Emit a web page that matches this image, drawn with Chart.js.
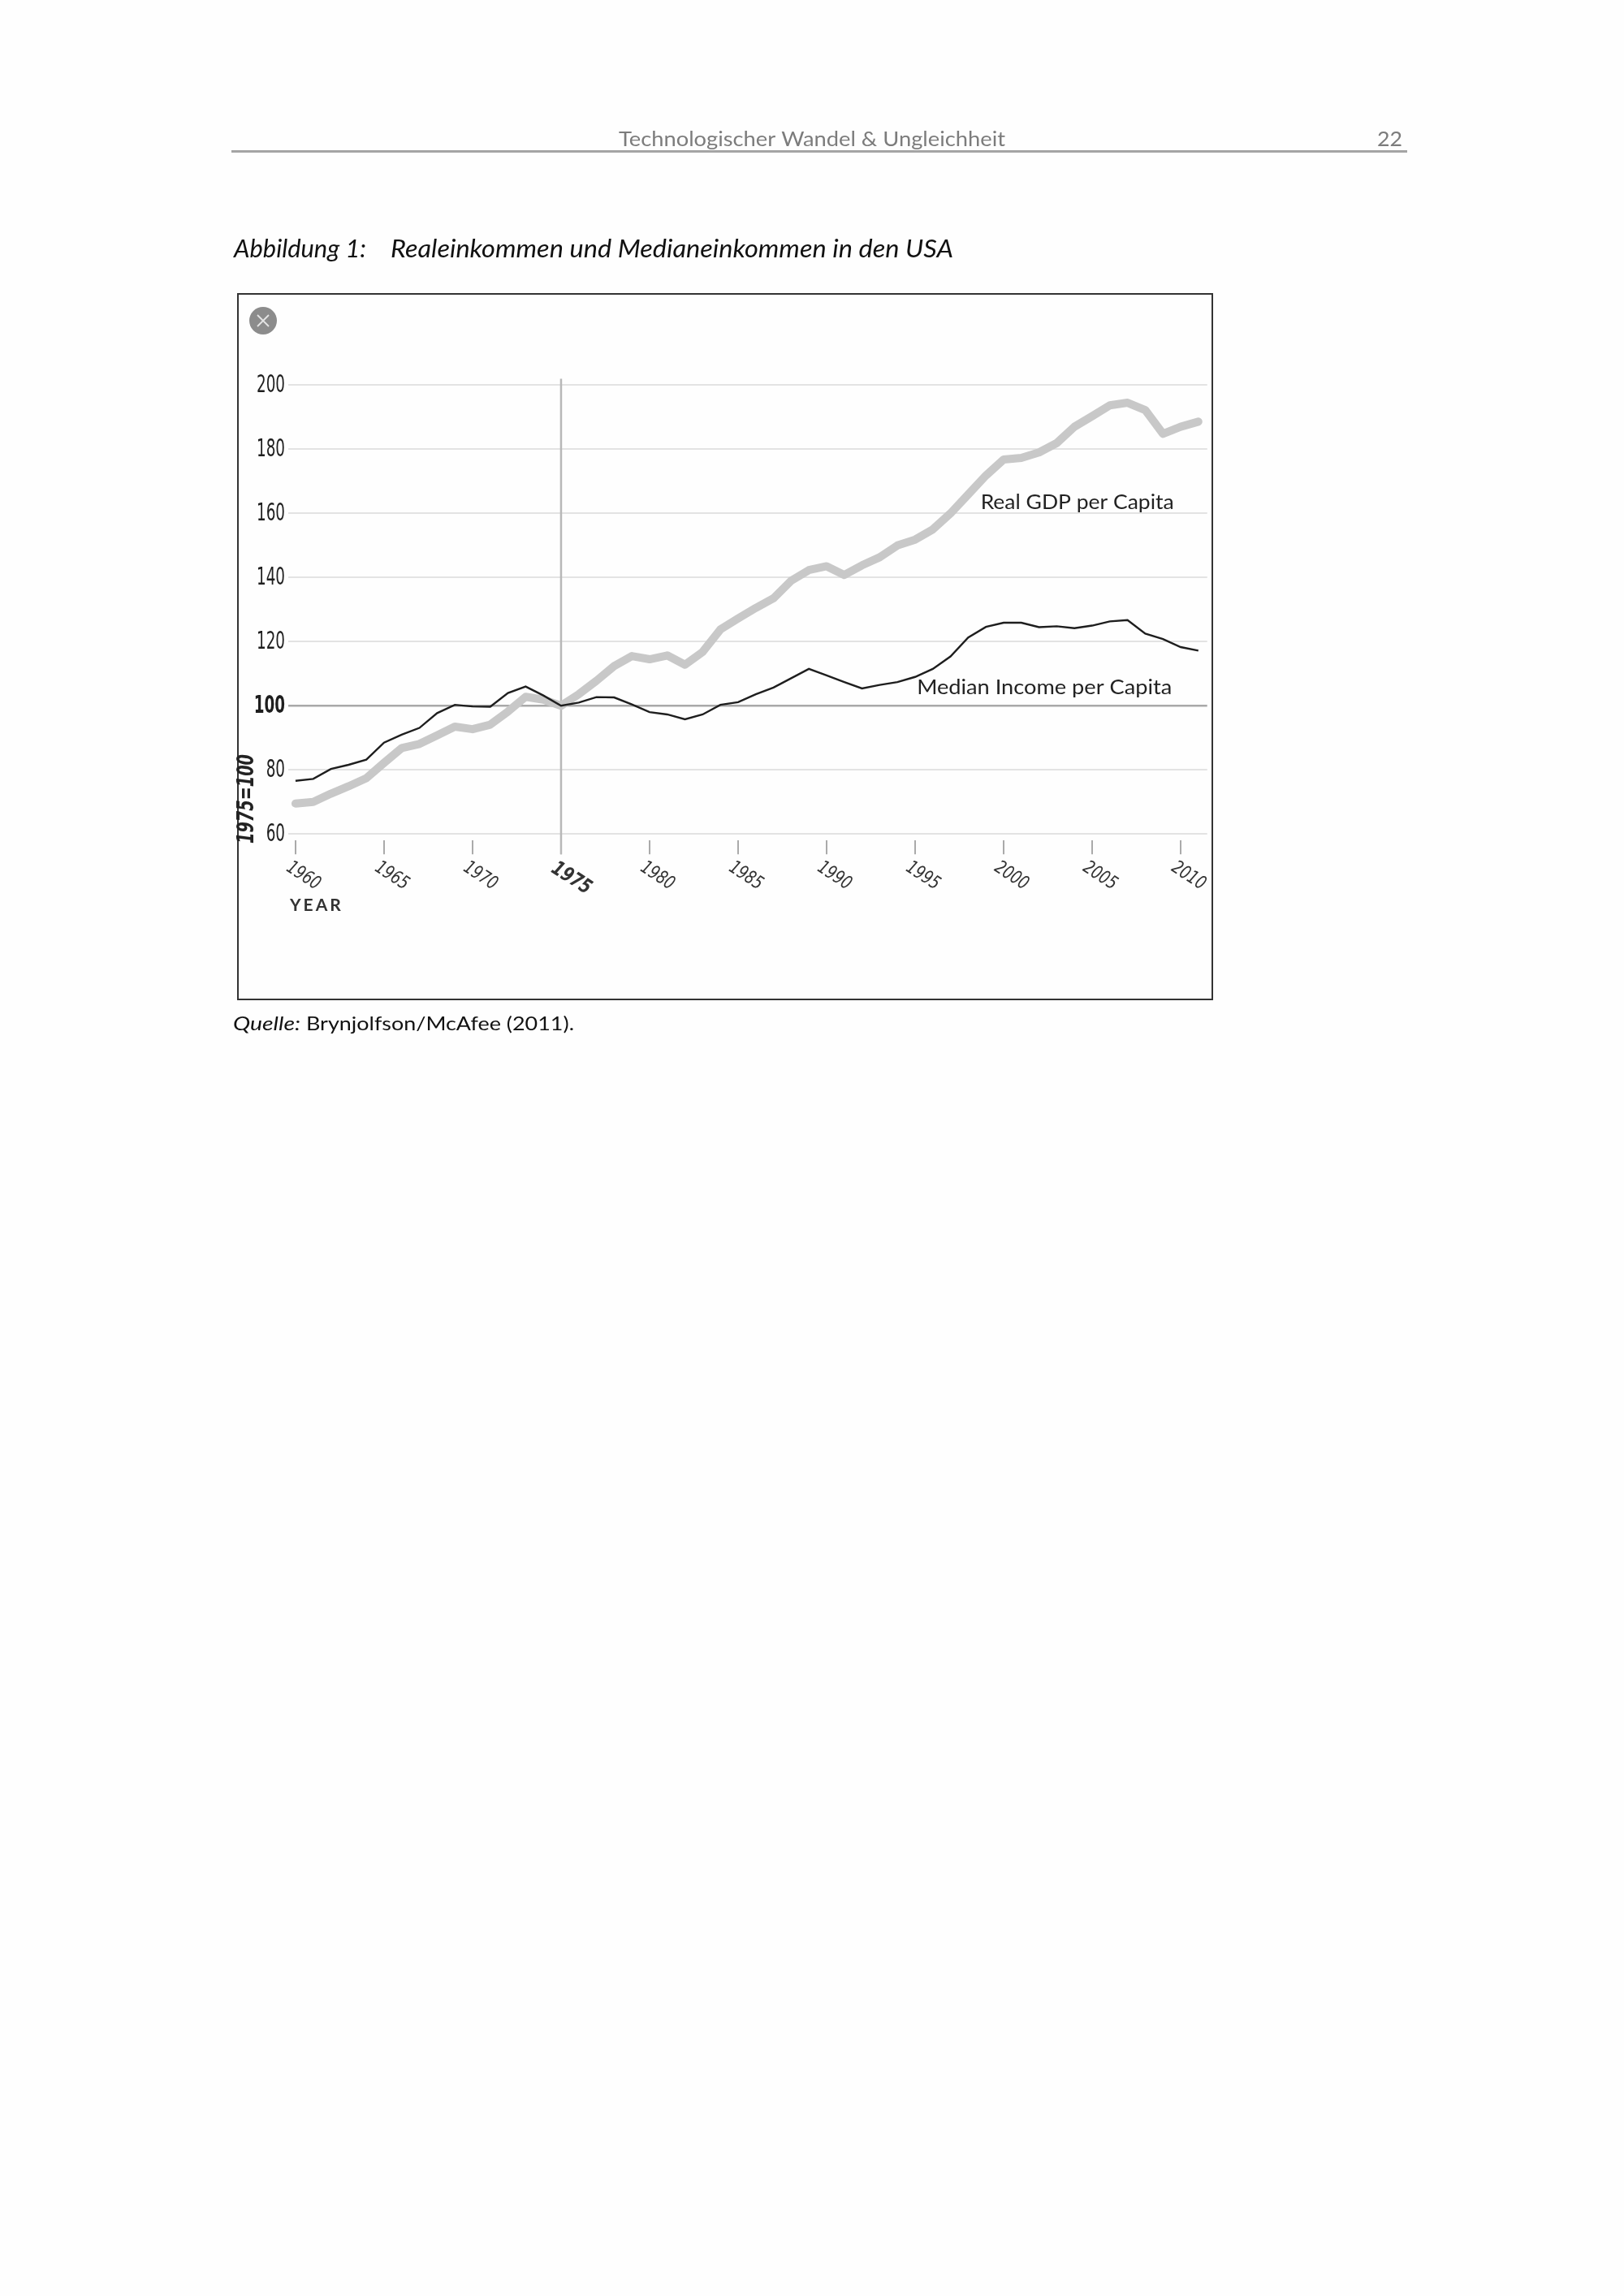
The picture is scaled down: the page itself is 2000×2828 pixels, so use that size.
<!DOCTYPE html>
<html>
<head>
<meta charset="utf-8">
<script src="https://cdn.jsdelivr.net/npm/chart.js@4.4.1/dist/chart.umd.min.js"></script>
<style>
  html, body { margin: 0; padding: 0; background: #fefefe; }
  #c { display: block; }
</style>
</head>
<body>
<canvas id="c" width="2000" height="2828"></canvas>
<script>
// Jahre und Reihen (1975 = 100)
const jahre = [1960, 1961, 1962, 1963, 1964, 1965, 1966, 1967, 1968, 1969,
  1970, 1971, 1972, 1973, 1974, 1975, 1976, 1977, 1978, 1979,
  1980, 1981, 1982, 1983, 1984, 1985, 1986, 1987, 1988, 1989,
  1990, 1991, 1992, 1993, 1994, 1995, 1996, 1997, 1998, 1999,
  2000, 2001, 2002, 2003, 2004, 2005, 2006, 2007, 2008, 2009,
  2010, 2011];

const realGdp = [69.5, 70.0, 72.6, 74.9, 77.4, 82.2, 86.8, 88.1, 90.8, 93.5,
  92.7, 94.1, 98.2, 102.8, 101.9, 100.0, 103.6, 107.8, 112.4, 115.5,
  114.5, 115.7, 112.8, 116.8, 123.8, 127.2, 130.5, 133.5, 139.0, 142.3,
  143.5, 140.8, 143.8, 146.3, 150.0, 151.8, 155.0, 160.0, 165.9, 171.8,
  176.8, 177.3, 179.0, 181.9, 187.0, 190.3, 193.7, 194.5, 192.2, 184.8,
  187.0, 188.6];

const medianEinkommen = [76.6, 77.2, 80.3, 81.6, 83.2, 88.5, 91.0, 93.1, 97.7, 100.3,
  99.8, 99.7, 104.0, 106.0, 103.2, 100.0, 101.0, 102.7, 102.6, 100.4,
  98.0, 97.3, 95.8, 97.3, 100.3, 101.1, 103.6, 105.7, 108.6, 111.5,
  109.5, 107.4, 105.4, 106.5, 107.4, 109.0, 111.5, 115.4, 121.3, 124.6,
  125.9, 125.9, 124.5, 124.8, 124.2, 125.0, 126.3, 126.7, 122.5, 120.8,
  118.3, 117.2];

const xTicks = [1960, 1965, 1970, 1975, 1980, 1985, 1990, 1995, 2000, 2005, 2010];
const yTicks = [60, 80, 100, 120, 140, 160, 180, 200];

const schmal = "'DejaVu Sans Condensed', 'DejaVu Sans', sans-serif";

// Text horizontal auf eine Zielbreite strecken
function drawFit(ctx, text, x, y, font, w, align, base) {
  ctx.font = font;
  const m = ctx.measureText(text).width;
  ctx.save();
  ctx.translate(x, y);
  ctx.scale(w / m, 1);
  ctx.textAlign = align || 'left';
  ctx.textBaseline = base || 'alphabetic';
  ctx.fillText(text, 0, 0);
  ctx.restore();
}

// Text mit festem Stauchfaktor
function drawSchmal(ctx, text, x, y, font, sx, align, base) {
  ctx.save();
  ctx.translate(x, y);
  ctx.scale(sx, 1);
  ctx.font = font;
  ctx.textAlign = align || 'left';
  ctx.textBaseline = base || 'alphabetic';
  ctx.fillText(text, 0, 0);
  ctx.restore();
}

const seite = {
  id: 'seite',
  beforeDatasetsDraw(chart) {
    const ctx = chart.ctx;
    const x = chart.scales.x, y = chart.scales.y;
    // senkrechte Linie bei 1975
    const px = x.getPixelForValue(1975);
    ctx.save();
    ctx.strokeStyle = '#b8b8b8';
    ctx.lineWidth = 2.5;
    ctx.beginPath();
    ctx.moveTo(px, y.getPixelForValue(202));
    ctx.lineTo(px, y.bottom + 17);
    ctx.stroke();
    ctx.restore();
  },
  afterDraw(chart) {
    const ctx = chart.ctx;
    const x = chart.scales.x, y = chart.scales.y;
    ctx.save();

    // Kopfzeile
    ctx.fillStyle = '#7c7c7c';
    drawFit(ctx, 'Technologischer Wandel & Ungleichheit', 1000, 180, '25px Lato', 476, 'center');
    drawFit(ctx, '22', 1727, 180, '25px Lato', 31, 'right');
    ctx.fillStyle = '#a4a4a4';
    ctx.fillRect(285, 185, 1448, 3);

    // Abbildungstitel
    ctx.fillStyle = '#111';
    drawFit(ctx, 'Abbildung 1:', 288, 317, 'italic 31px Lato', 163);
    drawFit(ctx, 'Realeinkommen und Medianeinkommen in den USA', 481, 317, 'italic 31px Lato', 693);

    // Quelle
    drawFit(ctx, 'Quelle:', 287, 1269, 'italic 24px Lato', 83);
    drawFit(ctx, 'Brynjolfson/McAfee (2011).', 377, 1269, '24px Lato', 330);

    // Rahmen
    ctx.strokeStyle = '#333';
    ctx.lineWidth = 2;
    ctx.strokeRect(293, 362, 1200, 869);

    // Symbol oben links
    ctx.fillStyle = '#8c8c8c';
    ctx.beginPath();
    ctx.arc(324, 395, 17, 0, Math.PI * 2);
    ctx.fill();
    ctx.strokeStyle = '#e4e4e4';
    ctx.lineWidth = 1.8;
    ctx.beginPath();
    ctx.moveTo(317, 388); ctx.lineTo(331, 402);
    ctx.moveTo(331, 388); ctx.lineTo(317, 402);
    ctx.stroke();

    // y-Beschriftung, schmal
    ctx.fillStyle = '#1e1e1e';
    yTicks.forEach(v => {
      const f = (v === 100 ? 'bold ' : '') + '30px ' + schmal;
      drawSchmal(ctx, String(v), y.right - 4, y.getPixelForValue(v) + 1, f, 0.68, 'right', 'middle');
    });

    // Jahreszahlen, schräg
    ctx.fillStyle = '#333';
    xTicks.forEach(v => {
      const px = x.getPixelForValue(v);
      ctx.save();
      ctx.translate(px - 3, y.bottom + 22);
      ctx.rotate(33 * Math.PI / 180);
      const f = v === 1975 ? 'italic bold 25px ' + schmal : 'italic 23px ' + schmal;
      drawSchmal(ctx, String(v), 0, 0, f, 0.85, 'left', 'top');
      ctx.restore();
    });

    ctx.font = 'bold 21px Lato';
    ctx.letterSpacing = '3px';
    ctx.textAlign = 'left';
    ctx.textBaseline = 'alphabetic';
    ctx.fillText('YEAR', 357, 1122);
    ctx.letterSpacing = '0px';

    // Achsentitel
    ctx.save();
    ctx.translate(305, 984);
    ctx.rotate(-Math.PI / 2);
    ctx.fillStyle = '#222';
    drawFit(ctx, '1975=100', 0, 0, 'italic bold 28px ' + schmal, 110, 'center', 'middle');
    ctx.restore();

    // Reihenbeschriftungen
    ctx.fillStyle = '#222';
    drawFit(ctx, 'Real GDP per Capita', x.getPixelForValue(1998.7), y.getPixelForValue(163.4), '25px Lato', 238, 'left', 'middle');
    drawFit(ctx, 'Median Income per Capita', x.getPixelForValue(1995.1), y.getPixelForValue(105.7), '25px Lato', 314, 'left', 'middle');

    ctx.restore();
  }
};

const punkte = werte => jahre.map((j, i) => ({ x: j, y: werte[i] }));

new Chart(document.getElementById('c'), {
  type: 'line',
  data: {
    datasets: [
      {
        label: 'Median Income per Capita',
        data: punkte(medianEinkommen),
        borderColor: '#1e1e1e',
        borderWidth: 2.4,
        pointRadius: 0,
        tension: 0
      },
      {
        label: 'Real GDP per Capita',
        data: punkte(realGdp),
        borderColor: '#c8c8c8',
        borderWidth: 10,
        borderJoinStyle: 'round',
        borderCapStyle: 'round',
        pointRadius: 0,
        tension: 0
      }
    ]
  },
  options: {
    responsive: false,
    animation: false,
    devicePixelRatio: 1,
    layout: { padding: { left: 295, top: 474.3, right: 513.3, bottom: 1775.8 } },
    scales: {
      x: {
        type: 'linear',
        min: 1959.59,
        max: 2011.5,
        afterBuildTicks: s => { s.ticks = xTicks.map(v => ({ value: v })); },
        afterFit: s => { s.height = 17; },
        ticks: { display: false },
        border: { display: false },
        grid: { drawOnChartArea: false, drawTicks: true, tickLength: 17, color: '#aaa', lineWidth: 2 }
      },
      y: {
        min: 58,
        max: 200,
        afterBuildTicks: s => { s.ticks = yTicks.map(v => ({ value: v })); },
        afterFit: s => { s.width = 60; },
        border: { display: false },
        grid: {
          drawTicks: false,
          color: c => c.tick && c.tick.value === 100 ? '#a9a9a9' : '#e3e3e3',
          lineWidth: c => c.tick && c.tick.value === 100 ? 2.5 : 2
        },
        ticks: { display: false }
      }
    },
    plugins: {
      legend: { display: false },
      tooltip: { enabled: false }
    }
  },
  plugins: [seite]
});
</script>
</body>
</html>
